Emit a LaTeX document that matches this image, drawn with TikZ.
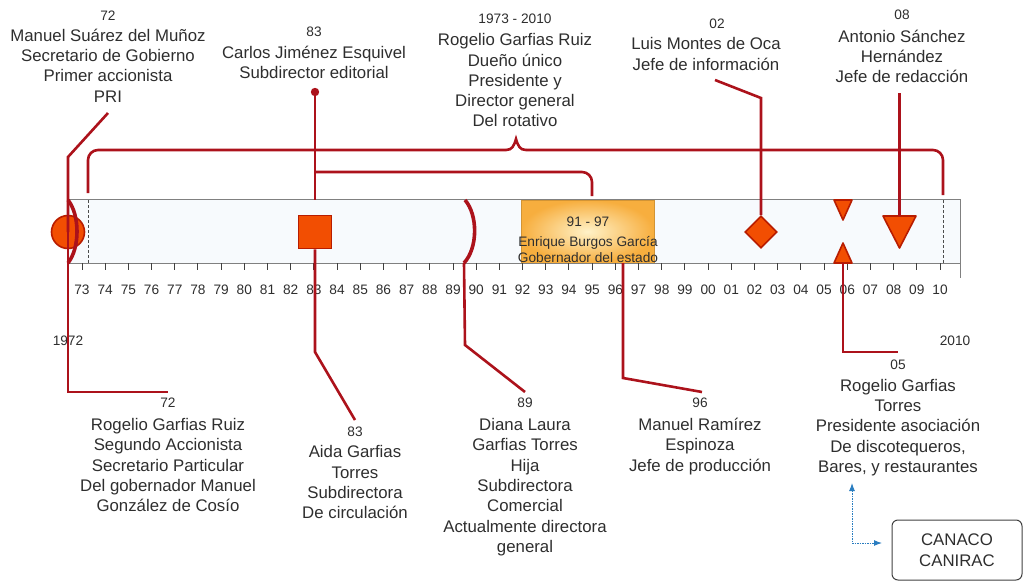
\documentclass[tikz,border=0pt]{standalone}
\usepackage{fontspec}
\setmainfont{Liberation Sans}
\usetikzlibrary{shapes.geometric,arrows.meta}

\definecolor{txt}{HTML}{2E2E2E}
\definecolor{tlred}{HTML}{AC121B}
\definecolor{mkfill}{HTML}{F24E02}
\definecolor{mkedge}{HTML}{B81C00}
\definecolor{barblue}{HTML}{DCE9F6}
\definecolor{barlight}{HTML}{F7FAFD}
\definecolor{bargray}{HTML}{808080}
\definecolor{govlight}{HTML}{FFF2C8}
\definecolor{govdark}{HTML}{F7AE3E}
\definecolor{linkblue}{HTML}{2A7DC0}

\tikzset{
  bigtxt/.style={font=\fontsize{16.8}{20.3}\selectfont, text=txt, align=center,
    inner sep=0pt, anchor=north},
  boxtxt/.style={font=\fontsize{13.7}{16.7}\selectfont, text=txt, align=center,
    inner sep=0pt, anchor=north},
  numtxt/.style={font=\fontsize{13.7}{16}\selectfont, text=txt, inner sep=0pt},
  conn/.style={draw=tlred, line width=2.6pt},
  paren/.style={draw=tlred, line width=3.6pt},
  marker/.style={fill=mkfill, draw=mkedge, line width=1.6pt, inner sep=0pt},
  guide/.style={draw=black!70, line width=0.9pt, dash pattern=on 3pt off 2pt},
  tick/.style={draw=black!75, line width=1pt},
  link/.style={draw=linkblue, line width=1pt, dash pattern=on 1.5pt off 1pt,
    {Latex[length=8pt,width=6pt]}-{Latex[length=8pt,width=6pt]}},
}

\begin{document}
\begin{tikzpicture}[x=1pt,y=-1pt]
\useasboundingbox (0,0) rectangle (1029,581);

% ---- timeline bar ----
\node[rectangle, minimum width=892pt, minimum height=63pt, inner sep=0pt,
  left color=barlight, middle color=barblue, right color=barlight]
  (bar) at (514,231.5) {};
\node[rectangle, minimum width=133pt, minimum height=63pt, inner sep=0pt,
  inner color=govlight, outer color=govdark, draw=govdark!85!black, line width=0.6pt]
  (gov) at (587.5,231.5) {};
\draw[draw=bargray, line width=1.3pt] (bar.north west) rectangle (bar.south east);
\draw[draw=bargray, line width=1.3pt] (bar.south east) -- ++(0,15);

% dashed limits 1973 / 2010
\draw[guide] (88,200) -- (88,263);
\draw[guide] (943,200) -- (943,263);

% year ticks and labels
\foreach \i in {0,...,37}{
  \pgfmathsetmacro\xx{82+23.19*\i}
  \pgfmathtruncatemacro\yr{mod(73+\i,100)}
  \draw[tick] (\xx,263) -- (\xx,270);
  \node[numtxt] (yr\i) at (\xx,290) {\ifnum\yr<10 0\fi\yr};
}
\node[numtxt] (y1972) at (68,341) {1972};
\node[numtxt] (y2010) at (955,341) {2010};

% text inside the government box
\node[numtxt] (govyears) at (588,222) {91 - 97};
\node[boxtxt] (govname) at (588,234.3) {\strut Enrique Burgos García\\Gobernador del estado};

% ---- markers ----
\node[marker, circle, minimum size=33pt] (c72) at (68,232) {};
\node[marker, rectangle, minimum size=33pt] (sq83) at (315,232) {};
\node[marker, diamond, minimum size=32pt] (dm02) at (761,232) {};
\filldraw[fill=mkfill, draw=mkedge, line width=1.6pt, line join=round]
  (834,200) -- (852,200) -- (843,220) -- cycle;
\filldraw[fill=mkfill, draw=mkedge, line width=1.6pt, line join=round]
  (834,263) -- (852,263) -- (843,243) -- cycle;
\filldraw[fill=mkfill, draw=mkedge, line width=1.6pt, line join=round]
  (883,216) -- (916,216) -- (899.5,248) -- cycle;
\coordinate (t05) at (843,263);
\coordinate (t08) at (899.5,216);

% ---- free ends of the connectors ----
\coordinate (e72a) at (108,113);
\coordinate (e72b) at (168,392);
\coordinate (e83a) at (315,92);
\coordinate (e83b) at (355,420);
\coordinate (e89) at (525,392);
\coordinate (e96) at (702,392);
\coordinate (e02) at (715,80);
\coordinate (e08) at (899.5,93);
\coordinate (e05) at (898,352);

% ---- red connectors ----
\draw[conn] (e72a) -- (68,157) -- (c72.center);
\draw[conn] (c72.center) -- (68,392) -- (e72b);
\draw[paren] (68,200) .. controls (80,215) and (80,248) .. (68,263);

\fill[tlred] (e83a) circle (4.2pt);
\draw[conn] (e83a) -- (sq83.north |- bar.north);
\draw[conn] (sq83.south) -- (315,352) -- (e83b);
\draw[conn, rounded corners=10pt] (315,172) -| (592,196);

\draw[conn, rounded corners=10pt] (88,193) |- (506,150);
\draw[conn] (506,150) .. controls (512,150) and (514,146) .. (516,139)
  .. controls (518,146) and (520,150) .. (526,150);
\draw[conn, rounded corners=10pt] (526,150) -| (943,195);

\draw[paren] (465,200) .. controls (478,215) and (478,248) .. (464,263);
\draw[conn] (464,263) -- (465,345) -- (e89);

\draw[conn] (623,263) -- (623,378) -- (e96);
\draw[conn] (e02) -- (761,98) -- (dm02.north);
\draw[conn] (e08) -- (t08);
\draw[conn] (t05) -- (843,352) -- (e05);

% ---- texts above the bar ----
\node[numtxt] (n72a) at (108,16) {72};
\node[bigtxt] (p72a) at (108,26.8) {\strut Manuel Suárez del Muñoz\\Secretario de Gobierno\\Primer accionista\\PRI};
\node[numtxt] (n83a) at (314,32) {83};
\node[bigtxt] (p83a) at (314,43.8) {\strut Carlos Jiménez Esquivel\\Subdirector editorial};
\node[numtxt] (n7310) at (515,19) {1973 - 2010};
\node[bigtxt] (p7310) at (515,31.3) {\strut Rogelio Garfias Ruiz\\Dueño único\\Presidente y\\Director general\\Del rotativo};
\node[numtxt] (n02) at (717,24) {02};
\node[bigtxt] (p02) at (706,35.3) {\strut Luis Montes de Oca\\Jefe de información};
\node[numtxt] (n08) at (902,15) {08};
\node[bigtxt] (p08) at (902,27.8) {\strut Antonio Sánchez\\Hernández\\Jefe de redacción};

% ---- texts below the bar ----
\node[numtxt] (n72b) at (168,403) {72};
\node[bigtxt] (p72b) at (168,416.1) {\strut Rogelio Garfias Ruiz\\Segundo Accionista\\Secretario Particular\\Del gobernador Manuel\\González de Cosío};
\node[numtxt] (n83b) at (355,432) {83};
\node[bigtxt] (p83b) at (355,443.5) {\strut Aida Garfias\\Torres\\Subdirectora\\De circulación};
\node[numtxt] (n89) at (525,403) {89};
\node[bigtxt] (p89) at (525,416.1) {\strut Diana Laura\\Garfias Torres\\Hija\\Subdirectora\\Comercial\\Actualmente directora\\general};
\node[numtxt] (n96) at (700,403) {96};
\node[bigtxt] (p96) at (700,416.1) {\strut Manuel Ramírez\\Espinoza\\Jefe de producción};
\node[numtxt] (n05) at (898,365) {05};
\node[bigtxt] (p05) at (898,376.8) {\strut Rogelio Garfias\\Torres\\Presidente asociación\\De discotequeros,\\Bares, y restaurantes};

% ---- chambers box and its link ----
\node[draw=black!75, line width=1pt, rounded corners=6pt, minimum width=130pt,
  minimum height=60pt, inner sep=0pt, align=center, text=txt,
  font=\fontsize{16.8}{21}\selectfont] (canaco) at (957,550) {CANACO\\CANIRAC};
\coordinate (linktop) at (852,483);
\draw[link] (linktop) |- (882,543);
\end{tikzpicture}
\end{document}
